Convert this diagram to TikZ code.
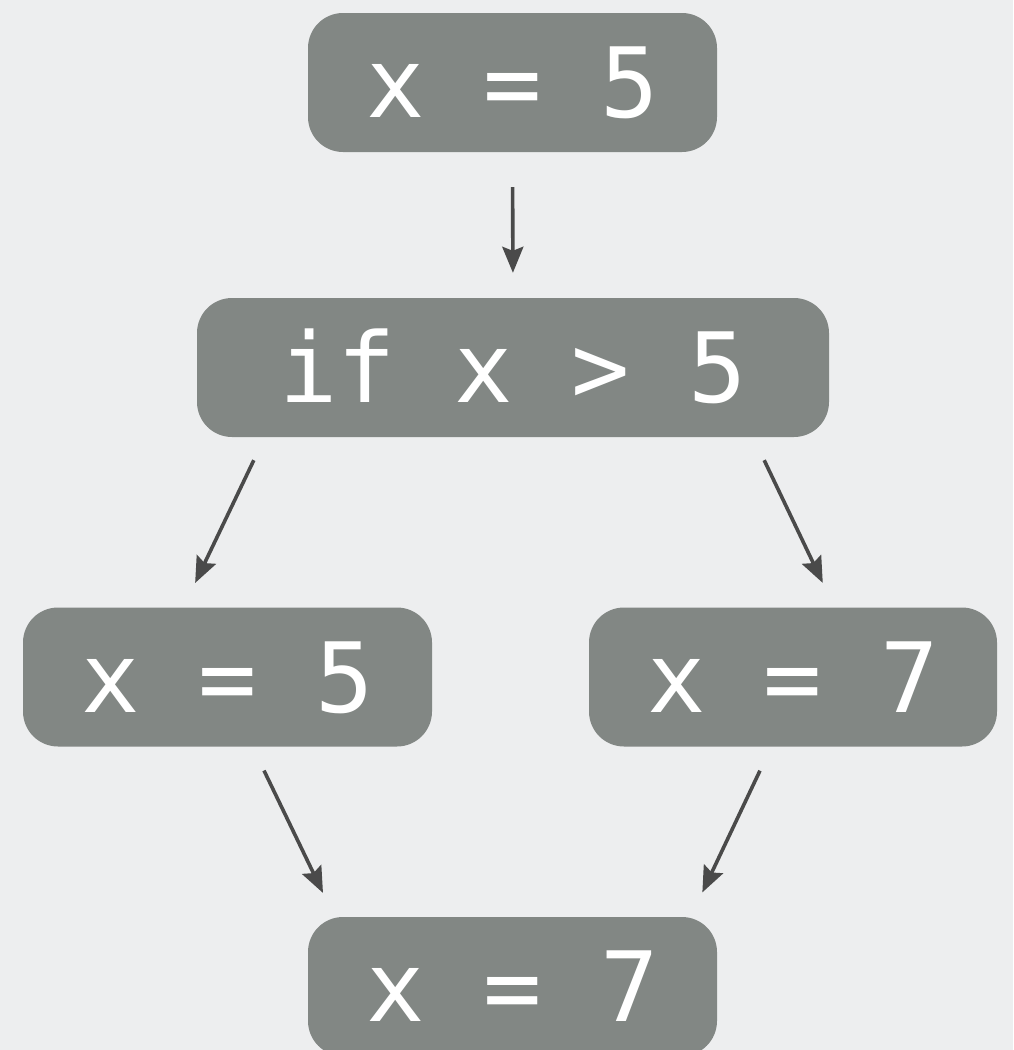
\documentclass[tikz,border=0pt]{standalone}
\usepackage{fontspec}
\newfontfamily\codefont{DejaVu Sans Mono}
\usetikzlibrary{arrows.meta}
\definecolor{bgcol}{HTML}{EDEEEF}
\definecolor{boxcol}{HTML}{828784}
\definecolor{arrcol}{HTML}{4A4A4A}
\tikzset{
  codebox/.style={fill=boxcol, draw=none, rounded corners=35pt, inner sep=0pt,
    minimum height=139pt, text=white, text height=70.5pt, text depth=0pt,
    font=\codefont\fontsize{97}{100}\selectfont},
  flow/.style={draw=arrcol, line width=3.6pt,
    -{Stealth[length=26pt,width=21pt,inset=4pt]}}
}
\begin{document}
\begin{tikzpicture}[x=1pt,y=-1pt]
\fill[bgcol] (0,0) rectangle (1013,1050);
\useasboundingbox (0,0) rectangle (1013,1050);
\clip (0,0) rectangle (1013,1050);
\node[codebox, minimum width=409pt] (a) at (512.5,82.5) {x = 5};
\node[codebox, minimum width=632pt] (b) at (513,367.5) {if x > 5};
\node[codebox, minimum width=409pt] (c) at (227.5,677) {x = 5};
\node[codebox, minimum width=408pt] (d) at (793,677) {x = 7};
\node[codebox, minimum width=409pt] (e) at (512.5,986.5) {x = 7};
\draw[flow, shorten <=35pt, shorten >=25pt] (a.south) -- (b.north);
\draw[flow, shorten <=25.5pt, shorten >=27pt] ([xshift=68pt]b.south west) -- ([xshift=-44pt]c.north);
\draw[flow, shorten <=25.5pt, shorten >=27pt] ([xshift=-76pt]b.south east) -- ([xshift=41.4pt]d.north);
\draw[flow, shorten <=26.5pt, shorten >=26.5pt] ([xshift=25pt]c.south) -- ([xshift=-178pt]e.north);
\draw[flow, shorten <=26.5pt, shorten >=27pt] ([xshift=-21.7pt]d.south) -- ([xshift=178.3pt]e.north);
\end{tikzpicture}
\end{document}
